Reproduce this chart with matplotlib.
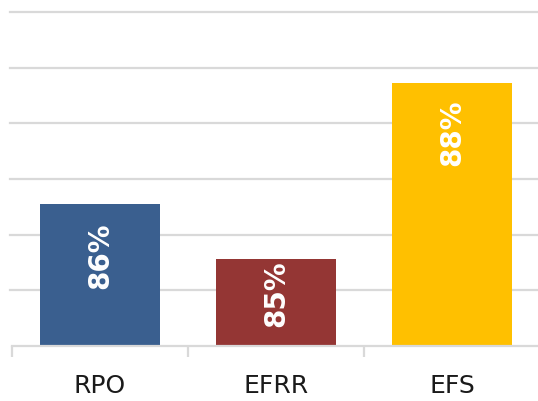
import matplotlib
matplotlib.use("Agg")
import matplotlib.pyplot as plt
import numpy as np

# data
categories = ["RPO", "EFRR", "EFS"]
values = [85.55, 84.56, 87.72]
value_labels = ["86%", "85%", "88%"]
colors = ["#3a5f8f", "#943634", "#ffc000"]
label_pad = [-13, -1, -12]  # points below bar top

fig = plt.figure(figsize=(5.38, 4.01), dpi=100)
W, H = 538, 401
ax = fig.add_axes([12 / W, (H - 346) / H, 528 / W, (346 - 12) / H])

x = np.arange(len(categories))
bars = ax.bar(x, values, width=0.68, color=colors, bottom=0, zorder=3)

ax.set_ylim(83, 89)
ax.set_xlim(-0.5, 2.5)

# gridlines
for yv in range(84, 90):
    ax.axhline(yv, xmin=-0.004, xmax=1, color="#d9d9d9", linewidth=1.6,
               zorder=0, clip_on=False)
ax.set_yticks([])

for s in ["top", "right", "left"]:
    ax.spines[s].set_visible(False)
ax.spines["bottom"].set_color("#d9d9d9")
ax.spines["bottom"].set_linewidth(1.6)
ax.spines["bottom"].set_zorder(4)

ax.set_xticks(x)
ax.set_xticklabels(categories, fontsize=18, color="#1a1a1a", family="DejaVu Sans")
ax.tick_params(axis="x", which="major", length=0, pad=20)
ax.set_xticks(np.arange(-0.5, 3, 1), minor=True)
ax.tick_params(axis="x", which="minor", length=8, width=1.6, color="#d9d9d9")

for b, lab, pad in zip(bars, value_labels, label_pad):
    ax.annotate(lab, (b.get_x() + b.get_width() / 2, b.get_height()),
                xytext=(0, pad), textcoords="offset points",
                ha="center", va="top", rotation=90, color="white",
                fontsize=20, fontweight="bold", family="DejaVu Sans", zorder=5)

fig.savefig("out.png", dpi=100)
